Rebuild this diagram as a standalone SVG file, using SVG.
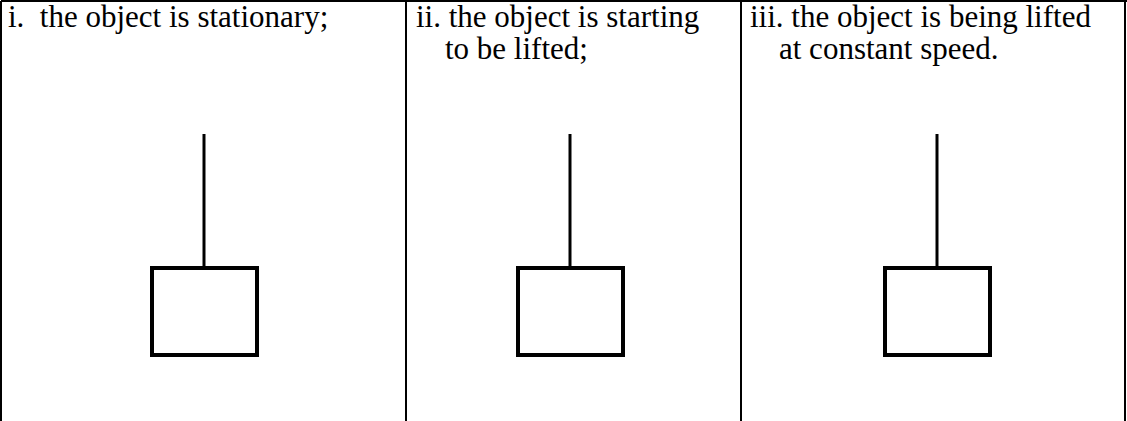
<svg xmlns="http://www.w3.org/2000/svg" width="1127" height="421" viewBox="0 0 1127 421">
<style>
.grid{stroke:#000;stroke-width:2;fill:none}
.t{font-family:"Liberation Serif","Times New Roman",serif;font-size:31px;fill:#000}
.box{fill:#fff;stroke:#000;stroke-width:4}
.rope{stroke:#000;stroke-width:3}
</style>
<g id="table">
<line class="grid" x1="1" y1="1" x2="1127" y2="1"/>
<line class="grid" x1="1" y1="1" x2="1" y2="421"/>
<line class="grid" x1="406" y1="1" x2="406" y2="421"/>
<line class="grid" x1="741" y1="1" x2="741" y2="421"/>
<line class="grid" x1="1125" y1="1" x2="1125" y2="421"/>
</g>
<g id="label-i"><text class="t" x="8" y="27" xml:space="preserve">i.  the object is stationary;</text></g>
<g id="label-ii"><text class="t" x="416" y="27">ii. the object is starting</text><text class="t" x="445" y="59">to be lifted;</text></g>
<g id="label-iii"><text class="t" x="750" y="27">iii. the object is being lifted</text><text class="t" x="779" y="59">at constant speed.</text></g>
<g id="connectors">
<line class="rope" x1="204" y1="134" x2="204" y2="268"/>
<line class="rope" x1="570" y1="134" x2="570" y2="268"/>
<line class="rope" x1="937" y1="134" x2="937" y2="268"/>
</g>
<g id="object-i"><rect class="box" x="152" y="268" width="105" height="87"/></g>
<g id="object-ii"><rect class="box" x="518" y="268" width="105" height="87"/></g>
<g id="object-iii"><rect class="box" x="885" y="268" width="105" height="87"/></g>
</svg>
